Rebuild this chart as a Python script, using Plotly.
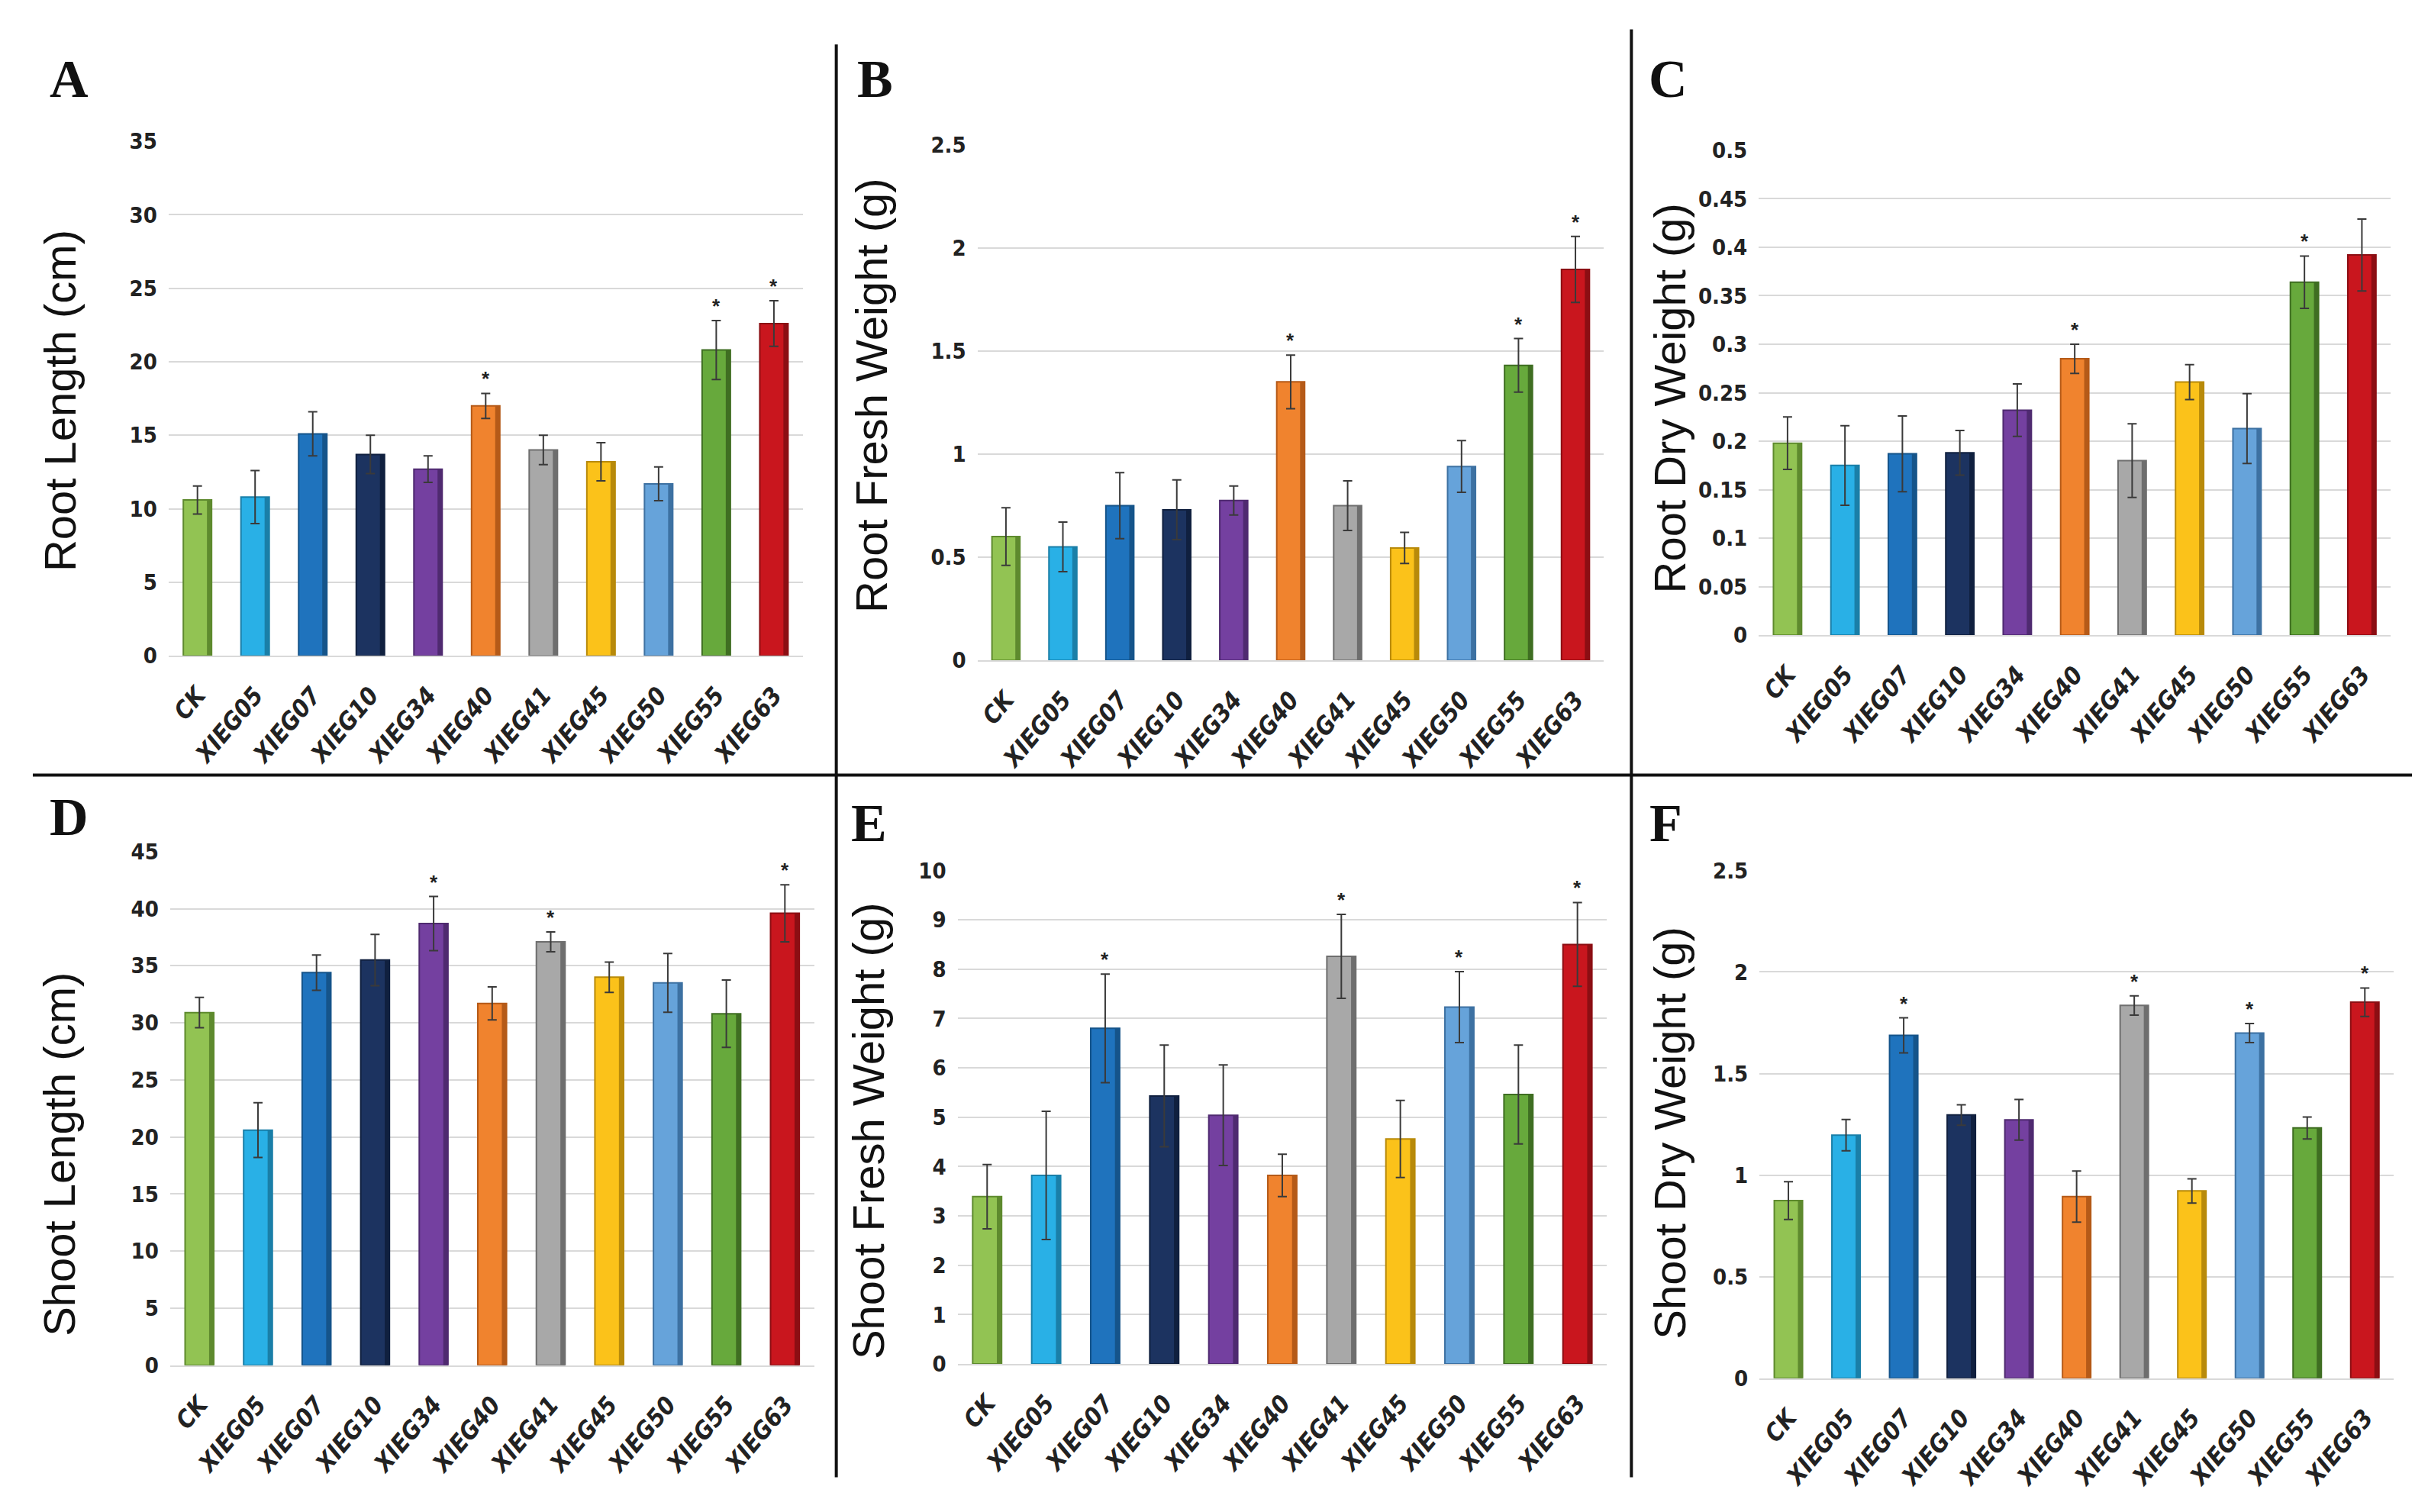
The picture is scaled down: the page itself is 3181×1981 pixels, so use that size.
import plotly.graph_objects as go

# ---------------- data ----------------
categories = ["CK", "XIEG05", "XIEG07", "XIEG10", "XIEG34", "XIEG40",
              "XIEG41", "XIEG45", "XIEG50", "XIEG55", "XIEG63"]

bar_colors = ["#92C353", "#29B0E6", "#1F73BD", "#1C3360", "#7440A0", "#F0832E",
              "#A8A8A8", "#FBC21A", "#66A3DA", "#67A93C", "#C9161E"]
edge_colors = ["#5E8A2E", "#1A7FA8", "#15548A", "#10203F", "#4F2A70", "#B55A18",
               "#6E6E6E", "#B88A0A", "#3D71A2", "#3F6E22", "#8C0E13"]

root_length = [10.6, 10.8, 15.1, 13.7, 12.7, 17.0, 14.0, 13.2, 11.7, 20.8, 22.6]
root_length_err = [0.95, 1.8, 1.5, 1.3, 0.9, 0.85, 1.0, 1.3, 1.15, 2.0, 1.55]
root_length_sig = ["XIEG40", "XIEG55", "XIEG63"]
root_length_ticks = [0, 5, 10, 15, 20, 25, 30, 35]
root_length_ticktext = ["0", "5", "10", "15", "20", "25", "30", "35"]

root_fresh = [0.60, 0.55, 0.75, 0.73, 0.775, 1.35, 0.75, 0.545, 0.94, 1.43, 1.895]
root_fresh_err = [0.14, 0.12, 0.16, 0.145, 0.07, 0.13, 0.12, 0.075, 0.125, 0.13, 0.16]
root_fresh_sig = ["XIEG40", "XIEG55", "XIEG63"]
root_fresh_ticks = [0, 0.5, 1, 1.5, 2, 2.5]
root_fresh_ticktext = ["0", "0.5", "1", "1.5", "2", "2.5"]

root_dry = [0.198, 0.175, 0.187, 0.188, 0.232, 0.285, 0.180, 0.261, 0.213, 0.364, 0.392]
root_dry_err = [0.027, 0.041, 0.039, 0.023, 0.027, 0.015, 0.038, 0.018, 0.036, 0.027, 0.037]
root_dry_sig = ["XIEG40", "XIEG55"]
root_dry_ticks = [0, 0.05, 0.1, 0.15, 0.2, 0.25, 0.3, 0.35, 0.4, 0.45, 0.5]
root_dry_ticktext = ["0", "0.05", "0.1", "0.15", "0.2", "0.25", "0.3", "0.35", "0.4", "0.45", "0.5"]

shoot_length = [30.9, 20.6, 34.4, 35.5, 38.7, 31.7, 37.1, 34.0, 33.5, 30.8, 39.6]
shoot_length_err = [1.33, 2.4, 1.55, 2.25, 2.37, 1.45, 0.87, 1.33, 2.58, 2.95, 2.5]
shoot_length_sig = ["XIEG34", "XIEG41", "XIEG63"]
shoot_length_ticks = [0, 5, 10, 15, 20, 25, 30, 35, 40, 45]
shoot_length_ticktext = ["0", "5", "10", "15", "20", "25", "30", "35", "40", "45"]

shoot_fresh = [3.39, 3.82, 6.80, 5.43, 5.04, 3.82, 8.26, 4.56, 7.23, 5.46, 8.50]
shoot_fresh_err = [0.65, 1.3, 1.1, 1.03, 1.02, 0.43, 0.85, 0.78, 0.72, 1.0, 0.85]
shoot_fresh_sig = ["XIEG07", "XIEG41", "XIEG50", "XIEG63"]
shoot_fresh_ticks = [0, 1, 2, 3, 4, 5, 6, 7, 8, 9, 10]
shoot_fresh_ticktext = ["0", "1", "2", "3", "4", "5", "6", "7", "8", "9", "10"]

shoot_dry = [0.875, 1.197, 1.688, 1.296, 1.272, 0.894, 1.835, 0.922, 1.699, 1.232, 1.851]
shoot_dry_err = [0.093, 0.077, 0.086, 0.05, 0.10, 0.126, 0.047, 0.06, 0.047, 0.054, 0.07]
shoot_dry_sig = ["XIEG07", "XIEG41", "XIEG50", "XIEG63"]
shoot_dry_ticks = [0, 0.5, 1, 1.5, 2, 2.5]
shoot_dry_ticktext = ["0", "0.5", "1", "1.5", "2", "2.5"]

panel_letters = ["A", "B", "C", "D", "E", "F"]
panel_ylabels = ["Root Length (cm)", "Root Fresh Weight (g)", "Root Dry Weight (g)",
                 "Shoot Length (cm)", "Shoot Fresh Weight (g)", "Shoot Dry Weight (g)"]

# ---------------- layout geometry (pixels) ----------------
W, H = 3181, 1981
panels = [
    dict(vals=root_length, err=root_length_err, sig=root_length_sig,
         tv=root_length_ticks, tt=root_length_ticktext, yr=[0, 35],
         x0=220, x1=1051, ytop=171, ybot=857, letter=(90, 88), ylab=(77, 517)),
    dict(vals=root_fresh, err=root_fresh_err, sig=root_fresh_sig,
         tv=root_fresh_ticks, tt=root_fresh_ticktext, yr=[0, 2.5],
         x0=1280, x1=2101, ytop=175.5, ybot=863, letter=(1146, 88), ylab=(1141, 510)),
    dict(vals=root_dry, err=root_dry_err, sig=root_dry_sig,
         tv=root_dry_ticks, tt=root_dry_ticktext, yr=[0, 0.5],
         x0=2304, x1=3132, ytop=183, ybot=829.5, letter=(2185, 88), ylab=(2187, 514)),
    dict(vals=shoot_length, err=shoot_length_err, sig=shoot_length_sig,
         tv=shoot_length_ticks, tt=shoot_length_ticktext, yr=[0, 45],
         x0=222, x1=1066, ytop=1118, ybot=1802.6, letter=(90, 1072), ylab=(77, 1521)),
    dict(vals=shoot_fresh, err=shoot_fresh_err, sig=shoot_fresh_sig,
         tv=shoot_fresh_ticks, tt=shoot_fresh_ticktext, yr=[0, 10],
         x0=1254, x1=2105, ytop=1143, ybot=1801, letter=(1138, 1080), ylab=(1137, 1490)),
    dict(vals=shoot_dry, err=shoot_dry_err, sig=shoot_dry_sig,
         tv=shoot_dry_ticks, tt=shoot_dry_ticktext, yr=[0, 2.5],
         x0=2305, x1=3136, ytop=1143, ybot=1820, letter=(2182, 1080), ylab=(2187, 1493)),
]

NARROW = "Liberation Sans Narrow, DejaVu Sans Condensed, Arial Narrow, sans-serif"
SANS = "Liberation Sans, Arial, sans-serif"
SERIF = "Liberation Serif, Times New Roman, serif"

fig = go.Figure()
layout = dict(
    width=W, height=H, margin=dict(l=0, r=0, t=0, b=0),
    paper_bgcolor="white", plot_bgcolor="white",
    showlegend=False, barmode="overlay",
)
annotations = []
shapes = []

tick_labels_html = ["<b><i>%s</i></b>" % c for c in categories]

for i, p in enumerate(panels):
    n = i + 1
    xa = "x" if n == 1 else "x%d" % n
    ya = "y" if n == 1 else "y%d" % n
    fig.add_trace(go.Bar(
        x=categories, y=p["vals"], xaxis=xa, yaxis=ya, width=0.49,
        marker=dict(color=bar_colors, line=dict(color=edge_colors, width=2)),
        error_y=dict(type="data", array=p["err"], color="#3a3a3a", thickness=2, width=6),
        hoverinfo="skip",
    ))
    fig.add_trace(go.Bar(
        x=categories, y=p["vals"], xaxis=xa, yaxis=ya, width=0.08, offset=0.165,
        marker=dict(color=edge_colors, line=dict(width=0)),
        hoverinfo="skip",
    ))
    xkey = "xaxis" if n == 1 else "xaxis%d" % n
    ykey = "yaxis" if n == 1 else "yaxis%d" % n
    layout[xkey] = dict(
        domain=[p["x0"] / W, p["x1"] / W], anchor=ya,
        type="category", range=[-0.5, 10.5],
        tickmode="array", tickvals=categories, ticktext=tick_labels_html,
        tickangle=-50, ticks="", showgrid=False,
        showline=True, linecolor="#D9D9D9", linewidth=2,
        tickfont=dict(family=NARROW, size=32, color="#222222"),
        ticklabelstandoff=18, fixedrange=True,
    )
    layout[ykey] = dict(
        domain=[1 - p["ybot"] / H, 1 - p["ytop"] / H], anchor=xa,
        range=p["yr"], tickmode="array", tickvals=p["tv"],
        ticktext=["<b>%s</b>" % t for t in p["tt"]],
        showgrid=True, gridcolor="#D9D9D9", gridwidth=2,
        zeroline=False, showline=False, ticks="",
        tickfont=dict(family=NARROW, size=29, color="#222222"),
        ticklabelstandoff=14, fixedrange=True,
    )
    # significance asterisks
    for c in p["sig"]:
        k = categories.index(c)
        annotations.append(dict(
            x=c, y=p["vals"][k] + p["err"][k], xref=xa, yref=ya,
            text="<b>*</b>", showarrow=False, yanchor="bottom", yshift=2,
            font=dict(family=SANS, size=26, color="#222222"),
        ))
    # panel letter
    annotations.append(dict(
        x=p["letter"][0] / W, y=1 - p["letter"][1] / H, xref="paper", yref="paper",
        text="<b>%s</b>" % panel_letters[i], showarrow=False,
        xanchor="center", yanchor="middle",
        font=dict(family=SERIF, size=70, color="#111111"),
    ))
    # y-axis label
    annotations.append(dict(
        x=p["ylab"][0] / W, y=1 - p["ylab"][1] / H, xref="paper", yref="paper",
        text=panel_ylabels[i], showarrow=False, textangle=-90,
        xanchor="center", yanchor="middle",
        font=dict(family=SANS, size=58, color="#111111"),
    ))

# panel dividers
line_style = dict(color="#111111", width=4)
shapes.append(dict(type="line", xref="paper", yref="paper",
                   x0=1095 / W, x1=1095 / W, y0=1 - 42 / H, y1=1 - 1952 / H, line=line_style))
shapes.append(dict(type="line", xref="paper", yref="paper",
                   x0=2137 / W, x1=2137 / W, y0=1 - 22 / H, y1=1 - 1952 / H, line=line_style))
shapes.append(dict(type="line", xref="paper", yref="paper",
                   x0=42 / W, x1=3160 / W, y0=1 - 1016 / H, y1=1 - 1016 / H, line=line_style))

layout["annotations"] = annotations
layout["shapes"] = shapes
fig.update_layout(**layout)

fig.write_html("out.html", config={"displayModeBar": False},
               post_script="document.body.style.margin='0';")
